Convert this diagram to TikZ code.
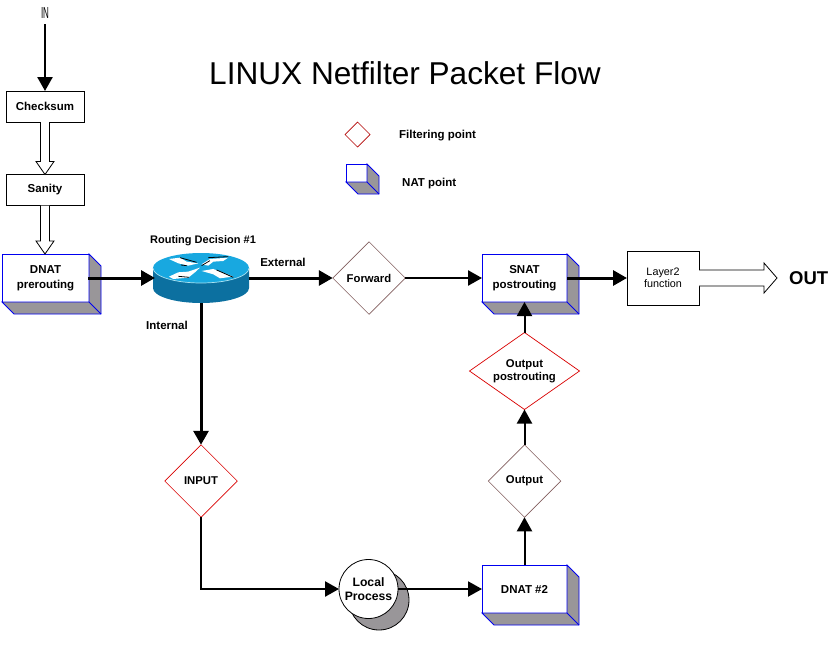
\documentclass[tikz,border=0pt]{standalone}
\usepackage{fontspec}
\usepackage{graphicx}
\setmainfont{Liberation Sans}
\usetikzlibrary{arrows.meta,shapes.geometric,positioning}

\definecolor{shadegray}{RGB}{153,150,153}
\definecolor{natblue}{RGB}{0,0,240}
\definecolor{routertop}{RGB}{24,168,224}
\definecolor{routerside}{RGB}{12,112,160}
\definecolor{routeredge}{RGB}{170,225,240}
\definecolor{pointgray}{RGB}{130,95,95}

\tikzset{
  plainbox/.style={draw=black, fill=white, line width=1pt, outer sep=0pt, inner sep=0pt,
    minimum width=78pt, minimum height=31pt, align=center, font=\fontsize{11.5}{15}\selectfont\bfseries},
  natbox/.style={plainbox, draw=natblue, minimum width=85pt, minimum height=48pt},
  filterpoint/.style={diamond, draw=red!85!black, fill=white, line width=.7pt, outer sep=0pt, inner sep=0pt,
    aspect=1, minimum width=72.5pt, minimum height=72.5pt, align=center,
    font=\fontsize{11.3}{13}\selectfont\bfseries},
  label/.style={inner sep=0pt, align=center, font=\fontsize{11.5}{14}\selectfont\bfseries},
  flow/.style={line width=3pt, -{Triangle[length=14pt,width=15pt]}},
  midflow/.style={line width=2.5pt, -{Triangle[length=14pt,width=15pt]}},
  thinflow/.style={line width=2pt, -{Triangle[length=14pt,width=15pt]}},
  hollowdown/.style={draw=black, fill=white, line width=.8pt, to path={
    ([xshift=-4.5pt]\tikztostart.south) -- ([shift={(-4.5,-13)}]\tikztostart.south |- \tikztotarget.north)
    -- ([shift={(-9,-13)}]\tikztostart.south |- \tikztotarget.north) -- (\tikztostart.south |- \tikztotarget.north)
    -- ([shift={(9,-13)}]\tikztostart.south |- \tikztotarget.north) -- ([shift={(4.5,-13)}]\tikztostart.south |- \tikztotarget.north)
    -- ([xshift=4.5pt]\tikztostart.south)}},
  hollowright/.style={draw=black, fill=white, line width=.8pt, to path={
    ([shift={(0,-8)}]\tikztostart.east) -- ([shift={(-25,-8)}]\tikztotarget.west)
    -- ([shift={(-25,-15)}]\tikztotarget.west) -- ([shift={(-12,0)}]\tikztotarget.west)
    -- ([shift={(-25,15)}]\tikztotarget.west) -- ([shift={(-25,8)}]\tikztotarget.west)
    -- ([shift={(0,8)}]\tikztostart.east)}}
}

% gray side and bottom faces of a NAT box
\newcommand{\natshade}[2]{
  \draw[natblue, fill=shadegray, line width=.8pt] (#1.north east) -- ++(#2,#2)
    -- ([shift={(#2,#2)}]#1.south east) -- ([shift={(#2,#2)}]#1.south west)
    -- (#1.south west) -- (#1.south east) -- cycle;
  \draw[natblue, line width=.8pt] (#1.south east) -- ++(#2,#2);
}

\begin{document}
\begin{tikzpicture}[x=1pt, y=-1pt]
  \useasboundingbox (0,0) rectangle (840,645);

  \node[inner sep=0pt, font=\fontsize{31.6}{34}\selectfont] (title) at (405,73) {LINUX Netfilter Packet Flow};
  \node[inner sep=0pt] (in) at (45,13) {\scalebox{.5}[1]{\fontsize{16}{16}\selectfont IN}};

  % left column
  \node[plainbox] (checksum) at (45,106.5) {Checksum};
  \node[plainbox] (sanity) at (45,190) {Sanity};
  \node[natbox, minimum width=87pt] (dnatpre) at (45.5,278) {DNAT\\prerouting};
  \natshade{dnatpre}{12}

  % router
  \fill[routerside] (153,268) -- (153,288) arc[start angle=180, end angle=0, x radius=48, y radius=15]
    -- (249,268) -- cycle;
  \coordinate (routerin) at (155,278);
  \coordinate (routerout) at (249,278);
  \coordinate (routerdown) at (201,303);
  \fill[routertop] (201,268) ellipse[x radius=48, y radius=15];
  \draw[routeredge, line width=.7pt] (153,268) arc[start angle=180, end angle=0, x radius=48, y radius=15];
  \begin{scope}[shift={(145,245)}, x=.333pt, y=-.333pt]
    \fill[white] (72,42) -- (105,38) -- (125,50) -- (160,55) -- (130,62) -- (100,55) -- cycle;
    \fill[white] (170,58) -- (195,42) -- (250,38) -- (235,48) -- (205,50) -- (190,62) -- cycle;
    \fill[white] (72,95) -- (100,82) -- (130,80) -- (165,68) -- (150,82) -- (130,98) -- (85,102) -- cycle;
    \fill[white] (170,78) -- (205,72) -- (240,85) -- (265,95) -- (225,100) -- (205,88) -- cycle;
    \draw[black, line width=.8pt] (105,38) -- (155,52) (190,38) -- (250,35) (108,60) -- (125,62)
      (170,62) -- (195,47) (215,75) -- (265,97) (100,94) -- (132,97);
  \end{scope}

  % diamonds
  \node[filterpoint, draw=pointgray] (forward) at (369,278) {Forward};
  \node[filterpoint, minimum width=110pt, minimum height=77pt, aspect=1.43] (outpost) at (524.5,371) {Output\\postrouting};
  \node[filterpoint] (input) at (201,481) {INPUT};
  \node[filterpoint, draw=pointgray] (output) at (524.5,481) {Output};

  % right side
  \node[natbox] (snat) at (524.5,278) {SNAT\\postrouting};
  \natshade{snat}{12}
  \node[plainbox, minimum width=72pt, minimum height=54pt, font=\fontsize{10.8}{12}\selectfont] (layertwo) at (663,278) {Layer2\\function};
  \node[label, anchor=west, font=\fontsize{18.5}{20}\selectfont\bfseries] (out) at (789,278) {OUT};
  \node[natbox] (dnattwo) at (524.5,589) {DNAT \#2};
  \natshade{dnattwo}{12}

  % local process
  \draw[fill=shadegray, line width=.8pt] (379,600) circle (30);
  \node[circle, draw, fill=white, line width=.8pt, minimum size=59pt, inner sep=0pt, outer sep=0pt, align=center,
    font=\fontsize{12.2}{14}\selectfont\bfseries] (local) at (368.5,589) {Local\\Process};

  % legend
  \node[filterpoint, draw=red!70!black, minimum width=25pt, minimum height=25pt] (legendf) at (357.5,134.5) {};
  \node[label, anchor=west] (legendftxt) at (399,135.5) {Filtering point};
  \node[natbox, minimum width=21pt, minimum height=18pt] (legendn) at (356.5,173) {};
  \natshade{legendn}{12}
  \node[label, anchor=west] (legendntxt) at (402,183.5) {NAT point};

  % labels
  \node[label, font=\fontsize{11}{14}\selectfont\bfseries] (routerlbl) at (203,241) {Routing Decision \#1};
  \node[label] (extlbl) at (283,262.5) {External};
  \node[label] (intlbl) at (167,325.5) {Internal};

  % flows
  \coordinate (intop) at (45,24);
  \draw[flow, line width=2.5pt] (intop) -- (checksum.north);
  \draw[hollowdown] (checksum) to (sanity);
  \draw[hollowdown] (sanity) to (dnatpre);
  \coordinate (dnatout) at (88,278);
  \draw[flow] (dnatout) -- (routerin);
  \draw[flow] (routerout) -- (forward.west);
  \draw[midflow] (forward.east) -- (snat.west);
  \draw[flow] (snat.east) -- (layertwo.west);
  \draw[hollowright] (layertwo) to (out);
  \draw[flow] (routerdown) -- (input.north);
  \draw[midflow] (input.south) |- (local.west);
  \draw[thinflow] (local.east) -- (dnattwo.west);
  \draw[thinflow] (dnattwo.north) -- (output.south);
  \draw[thinflow] (output.north) -- (outpost.south);
  \draw[thinflow] (outpost.north) -- (snat.south);
\end{tikzpicture}
\end{document}
